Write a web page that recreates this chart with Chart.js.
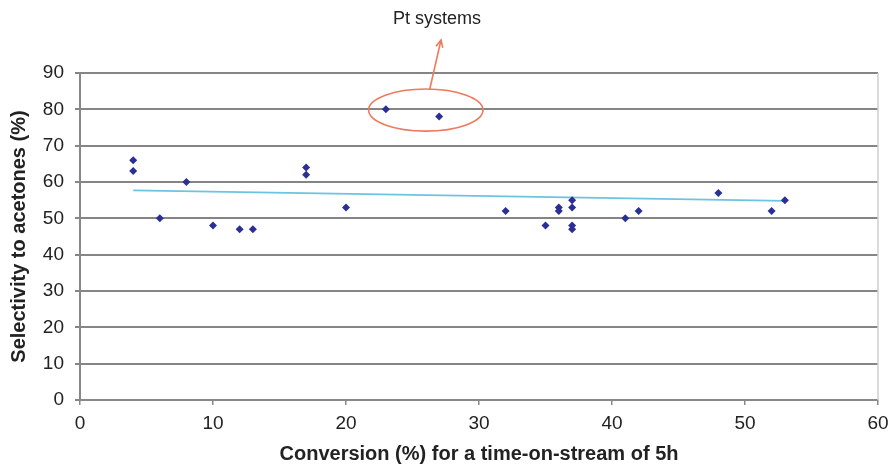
<!DOCTYPE html>
<html>
<head>
<meta charset="utf-8">
<script src="https://cdn.jsdelivr.net/npm/chart.js@4"></script>
<style>
  html, body { margin: 0; padding: 0; background: #fff; }
  #wrap { width: 891px; height: 466px; }
</style>
</head>
<body>
<div id="wrap"><canvas id="selectivityChart" width="891" height="466"></canvas></div>
<script>
// Selectivity vs conversion scatter

const conversion = [4, 4, 6, 8, 10, 12, 13, 17, 17, 20, 23, 27, 32, 35, 36, 36, 37, 37, 37, 37, 41, 42, 48, 52, 53];
const selectivity = [66, 63, 50, 60, 48, 47, 47, 64, 62, 53, 80, 78, 52, 48, 53, 52, 55, 53, 48, 47, 50, 52, 57, 52, 55];

// linear trend line ends
const trendX = [4, 53];
const trendY = [57.7, 54.8];

const xTicks = [0, 10, 20, 30, 40, 50, 60];
const yTicks = [0, 10, 20, 30, 40, 50, 60, 70, 80, 90];

const calloutLabel = 'Pt systems';

const points = conversion.map((x, i) => ({ x: x, y: selectivity[i] }));
const trend = trendX.map((x, i) => ({ x: x, y: trendY[i] }));

// ellipse round the Pt points, arrow and label
const calloutPlugin = {
    id: 'callout',
    afterDatasetsDraw(chart) {
        const ctx = chart.ctx;
        const xs = chart.scales.x;
        const ys = chart.scales.y;
        const cx = xs.getPixelForValue(26.0);
        const cy = ys.getPixelForValue(79.8);
        const rx = xs.getPixelForValue(4.3) - xs.getPixelForValue(0);
        const ry = ys.getPixelForValue(0) - ys.getPixelForValue(5.8);
        ctx.save();
        ctx.strokeStyle = '#ef7a5c';
        ctx.lineWidth = 1.6;
        ctx.beginPath();
        ctx.ellipse(cx, cy, rx, ry, 0, 0, Math.PI * 2);
        ctx.stroke();
        // arrow
        const x0 = xs.getPixelForValue(26.3), y0 = cy - ry;
        const x1 = 441, y1 = 40;
        ctx.beginPath();
        ctx.moveTo(x0, y0);
        ctx.lineTo(x1, y1);
        ctx.stroke();
        const a = Math.atan2(y1 - y0, x1 - x0);
        ctx.beginPath();
        ctx.moveTo(x1 - 8 * Math.cos(a - 0.45), y1 - 8 * Math.sin(a - 0.45));
        ctx.lineTo(x1, y1);
        ctx.lineTo(x1 - 8 * Math.cos(a + 0.45), y1 - 8 * Math.sin(a + 0.45));
        ctx.stroke();
        ctx.fillStyle = '#222';
        ctx.font = '18px "Liberation Sans", Arial, sans-serif';
        ctx.textAlign = 'center';
        ctx.textBaseline = 'middle';
        ctx.fillText(calloutLabel, 437, 19);
        // right border of plot area
        const area = chart.chartArea;
        ctx.strokeStyle = '#cfcfcf';
        ctx.lineWidth = 1.5;
        ctx.beginPath();
        ctx.moveTo(area.right, area.top);
        ctx.lineTo(area.right, area.bottom);
        ctx.stroke();
        ctx.restore();
    }
};

const tickFont = { family: '"Liberation Sans", Arial, sans-serif', size: 19 };
const titleFont = { family: '"Liberation Sans", Arial, sans-serif', size: 20, weight: 'bold' };

new Chart(document.getElementById('selectivityChart').getContext('2d'), {
    type: 'scatter',
    data: {
        datasets: [{
            label: 'Selectivity',
            data: points,
            pointStyle: 'rectRot',
            pointRadius: 4,
            backgroundColor: '#2a2f96',
            borderColor: '#2a2f96',
            borderWidth: 0,
            order: 1
        }, {
            label: 'Trend',
            type: 'line',
            data: trend,
            borderColor: '#6cc3e2',
            borderWidth: 1.6,
            pointRadius: 0,
            fill: false,
            order: 2
        }]
    },
    options: {
        responsive: false,
        animation: false,
        layout: { padding: { top: 73, right: 13, left: 0, bottom: 0 } },
        plugins: {
            legend: { display: false },
            tooltip: { enabled: false }
        },
        scales: {
            x: {
                type: 'linear',
                min: 0,
                max: 60,
                afterBuildTicks: (s) => { s.ticks = xTicks.map(v => ({ value: v })); },
                afterFit: (s) => { s.height = 66; s.paddingLeft = 0; s.paddingRight = 0; },
                grid: { drawOnChartArea: false, drawTicks: true, tickLength: 5, color: '#888', lineWidth: 1.5 },
                border: { color: '#888', width: 2 },
                ticks: { font: tickFont, color: '#222', padding: 7, maxRotation: 0 },
                title: { display: true, text: 'Conversion (%) for a time-on-stream of 5h', font: titleFont, color: '#222', padding: { top: 2, bottom: 0 } }
            },
            y: {
                min: 0,
                max: 90,
                afterBuildTicks: (s) => { s.ticks = yTicks.map(v => ({ value: v })); },
                afterFit: (s) => { s.width = 80; s.paddingTop = 0; s.paddingBottom = 0; },
                grid: { color: '#858585', lineWidth: 2, tickLength: 5 },
                border: { color: '#888', width: 2 },
                ticks: { font: tickFont, color: '#222', padding: 11 },
                title: { display: true, text: 'Selectivity to acetones (%)', font: titleFont, color: '#222', padding: { top: 7, bottom: 0 } }
            }
        }
    },
    plugins: [calloutPlugin]
});
</script>
</body>
</html>
